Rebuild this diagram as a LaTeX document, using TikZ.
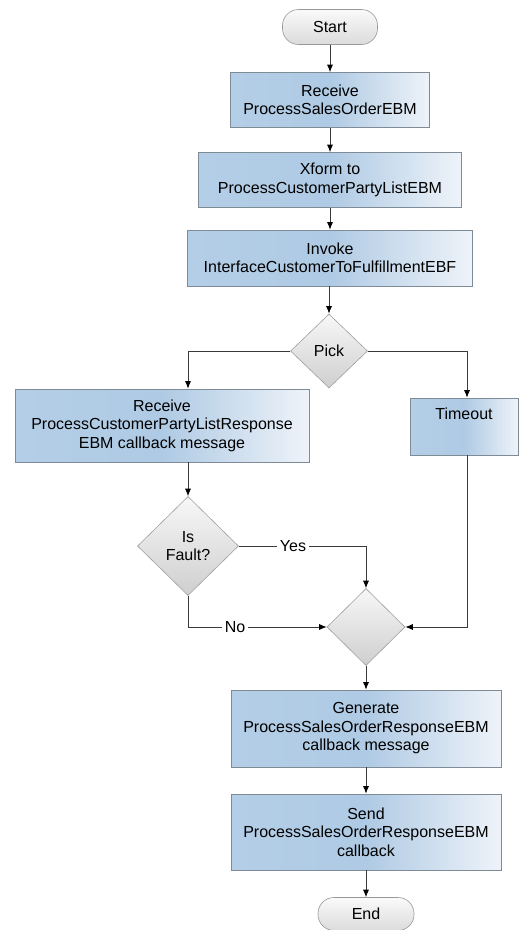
\documentclass[tikz,border=0pt]{standalone}
\usepackage{fontspec}
\setmainfont{Liberation Sans}
\usetikzlibrary{shapes.geometric,arrows.meta}
\definecolor{boxa}{HTML}{B4CEE7}
\definecolor{boxm}{HTML}{AFCAE4}
\definecolor{boxb}{HTML}{EEF3F9}
\definecolor{edge}{HTML}{7F8C98}
\definecolor{conn}{HTML}{3A3A3A}
\tikzset{
  txt/.style={font=\fontsize{16}{18.5}\selectfont, text=black},
  stepbox/.style={txt, rectangle, draw=edge, line width=0.7pt, align=center,
    left color=boxa, right color=boxb, middle color=boxm, inner sep=2pt},
  decision/.style={txt, diamond, draw=gray!75, line width=0.6pt, align=center,
    top color=gray!6, bottom color=gray!38, inner sep=0pt},
  terminal/.style={txt, rectangle, rounded corners=16pt, draw=gray!80, line width=0.6pt,
    top color=gray!4, bottom color=gray!28, inner sep=0pt},
  flow/.style={draw=conn, line width=0.8pt, -{Latex[length=7.5pt,width=6pt,color=black]}},
  lbl/.style={txt, fill=white, inner sep=3pt}
}
\begin{document}
\begin{tikzpicture}[x=1pt,y=-1pt]
\useasboundingbox (0,0) rectangle (520,930);
% nodes
\node[terminal, minimum width=95pt, minimum height=35pt] (start) at (330,27) {Start};
\node[stepbox, minimum width=199pt, minimum height=55pt] (b1) at (330,100) {Receive\\ProcessSalesOrderEBM};
\node[stepbox, minimum width=263pt, minimum height=55pt] (b2) at (330,180) {Xform to\\ProcessCustomerPartyListEBM};
\node[stepbox, minimum width=285pt, minimum height=56pt] (b3) at (330,258) {Invoke\\InterfaceCustomerToFulfillmentEBF};
\node[decision, minimum width=77pt, minimum height=74pt] (pick) at (329,351) {Pick};
\node[stepbox, minimum width=294pt, minimum height=73pt] (b4) at (162,425.5) {Receive\\ProcessCustomerPartyListResponse\\EBM callback message};
\node[stepbox, minimum width=108pt, minimum height=57pt] (timeout) at (464,426.5) {};
\node[txt, anchor=north] (timeouttxt) at ([yshift=-7pt]timeout.north) {Timeout};
\node[decision, minimum width=101pt, minimum height=99pt] (isfault) at (188,546) {Is\\Fault?};
\node[decision, minimum width=78pt, minimum height=77pt] (merge) at (366,627) {};
\node[stepbox, minimum width=270pt, minimum height=77pt] (gen) at (366,728.5) {Generate\\ProcessSalesOrderResponseEBM\\callback message};
\node[stepbox, minimum width=270pt, minimum height=76pt] (send) at (366,832) {Send\\ProcessSalesOrderResponseEBM\\callback};
\node[terminal, minimum width=96pt, minimum height=33pt] (end) at (366,914) {End};
% helper coordinates
\coordinate (lx) at (188,351);
\coordinate (rx) at (467,351);
\coordinate (rb) at (467,627);
\coordinate (yx) at (366,546);
\coordinate (nx) at (188,627);
% connectors
\draw[flow] (start) -- (b1);
\draw[flow] (b1) -- (b2);
\draw[flow] (b2) -- (b3);
\draw[flow] (b3.south -| pick.north) -- (pick.north);
\draw[flow] (pick.west) -- (lx) -- (lx |- b4.north);
\draw[flow] (pick.east) -- (rx) -- (rx |- timeout.north);
\draw[flow] (isfault.north |- b4.south) -- (isfault.north);
\draw[flow] (rx |- timeout.south) -- (rb) -- (merge.east);
\draw[flow] (isfault.east) -- (yx) -- (merge.north);
\draw[flow] (isfault.south) -- (nx) -- (merge.west);
\node[lbl] (yes) at (293,546) {Yes};
\node[lbl] (no) at (235,627) {No};
\draw[flow] (merge.south) -- (gen.north);
\draw[flow] (gen) -- (send);
\draw[flow] (send.south) -- (end.north);
\end{tikzpicture}
\end{document}
